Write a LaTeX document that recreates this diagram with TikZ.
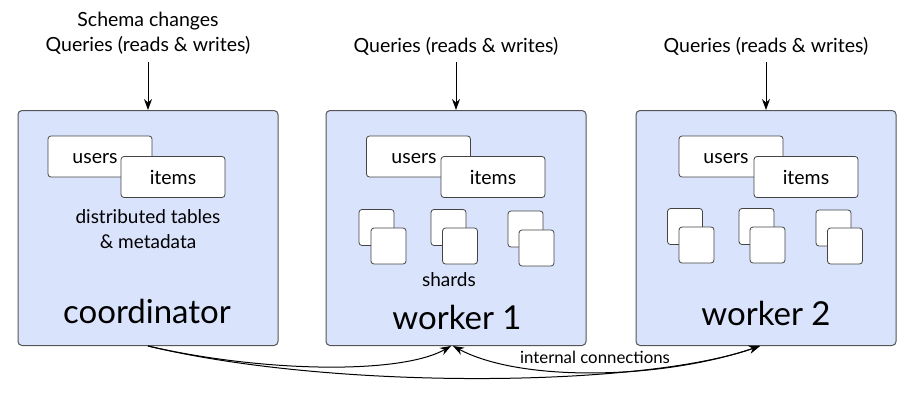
\documentclass[tikz,border=0pt]{standalone}
\usepackage{fontspec}
\setmainfont{Lato}
\usetikzlibrary{arrows.meta}
\definecolor{boxfill}{HTML}{D9E3FC}
\definecolor{boxline}{HTML}{555555}
\begin{document}
\begin{tikzpicture}[x=1pt,y=-1pt,
  bigbox/.style={draw=boxline,fill=boxfill,line width=1pt,rounded corners=4pt,minimum width=260pt,minimum height=235pt,inner sep=0pt},
  tablebox/.style={draw=boxline!80!black,fill=white,line width=0.8pt,rounded corners=3pt,minimum width=104pt,minimum height=41pt,inner sep=0pt},
  shardbox/.style={draw=boxline!80!black,fill=white,line width=0.8pt,rounded corners=3pt,minimum width=35pt,minimum height=36pt,inner sep=0pt},
  toptext/.style={font=\fontsize{19.5}{25}\selectfont,align=center,inner sep=0pt},
  tabletext/.style={font=\fontsize{19.5}{22}\selectfont,inner sep=0pt},
  smalltext/.style={font=\fontsize{19}{25}\selectfont,align=center,inner sep=0pt},
  bigtext/.style={font=\fontsize{33}{36}\selectfont,inner sep=0pt},
  arr/.style={-{Stealth[length=11pt,width=8pt]},line width=1pt},
  conn/.style={line width=1.2pt}
]
\useasboundingbox (0,0) rectangle (913,407);

% main boxes
\node[bigbox] (coord) at (148,228) {};
\node[bigbox] (w1) at (456,228) {};
\node[bigbox] (w2) at (766,228) {};

% top labels and arrows
\node[toptext] (q0) at (148,33) {Schema changes\\Queries (reads \& writes)};
\node[toptext] (q1) at (456,46) {Queries (reads \& writes)};
\node[toptext] (q2) at (766,46) {Queries (reads \& writes)};
\coordinate (s0) at (148,62);
\coordinate (s1) at (456,62);
\coordinate (s2) at (766,62);
\draw[arr] (s0) -- (coord.north);
\draw[arr] (s1) -- (w1.north);
\draw[arr] (s2) -- (w2.north);

% coordinator contents
\node[tablebox] (cu) at (100,156.5) {};
\node[tabletext,anchor=base] at (95,163) {users};
\node[tablebox] (ci) at (173,177) {};
\node[tabletext] at (173,177) {items};
\node[smalltext] (cdt) at (148,229) {distributed tables\\\& metadata};
\node[bigtext] (cl) at (147,311) {coordinator};

% worker 1 contents
\node[tablebox] (w1u) at (418.5,156.5) {};
\node[tabletext,anchor=base] at (414,163) {users};
\node[tablebox] (w1i) at (493,177) {};
\node[tabletext] at (493,177) {items};
\node[shardbox] (w1a1) at (376.5,227.5) {};
\node[shardbox] (w1a2) at (388.5,246) {};
\node[shardbox] (w1b1) at (448.5,227.5) {};
\node[shardbox] (w1b2) at (460,246) {};
\node[shardbox] (w1c1) at (525.5,229) {};
\node[shardbox] (w1c2) at (536.5,248) {};
\node[smalltext] (w1s) at (449,280) {shards};
\node[bigtext] (w1l) at (457,317) {worker 1};

% worker 2 contents
\node[tablebox] (w2u) at (731,156.5) {};
\node[tabletext,anchor=base] at (726,163) {users};
\node[tablebox] (w2i) at (806,177) {};
\node[tabletext] at (806,177) {items};
\node[shardbox] (w2a1) at (685,226.5) {};
\node[shardbox] (w2a2) at (696.5,245) {};
\node[shardbox] (w2b1) at (756.5,226.5) {};
\node[shardbox] (w2b2) at (767.5,245) {};
\node[shardbox] (w2c1) at (833.5,228) {};
\node[shardbox] (w2c2) at (845,246) {};
\node[bigtext] (w2l) at (766,313) {worker 2};

% internal connections
\coordinate (w1in) at ([xshift=-5pt]w1.south);
\coordinate (w2in) at ([xshift=-6pt]w2.south);
\draw[conn,arr] (coord.south) .. controls (260,372) and (400,375) .. (w1in);
\draw[conn,arr] (coord.south) .. controls (330,390) and (640,388) .. (w2in);
\draw[conn,arr,{Stealth[length=11pt,width=8pt]}-{Stealth[length=11pt,width=8pt]}] ([xshift=2pt]w1in) .. controls (520,382) and (660,380) .. (w2in);
\node[font=\fontsize{16.8}{20}\selectfont,inner sep=0pt] (ic) at (595,357) {internal connections};
\end{tikzpicture}
\end{document}
